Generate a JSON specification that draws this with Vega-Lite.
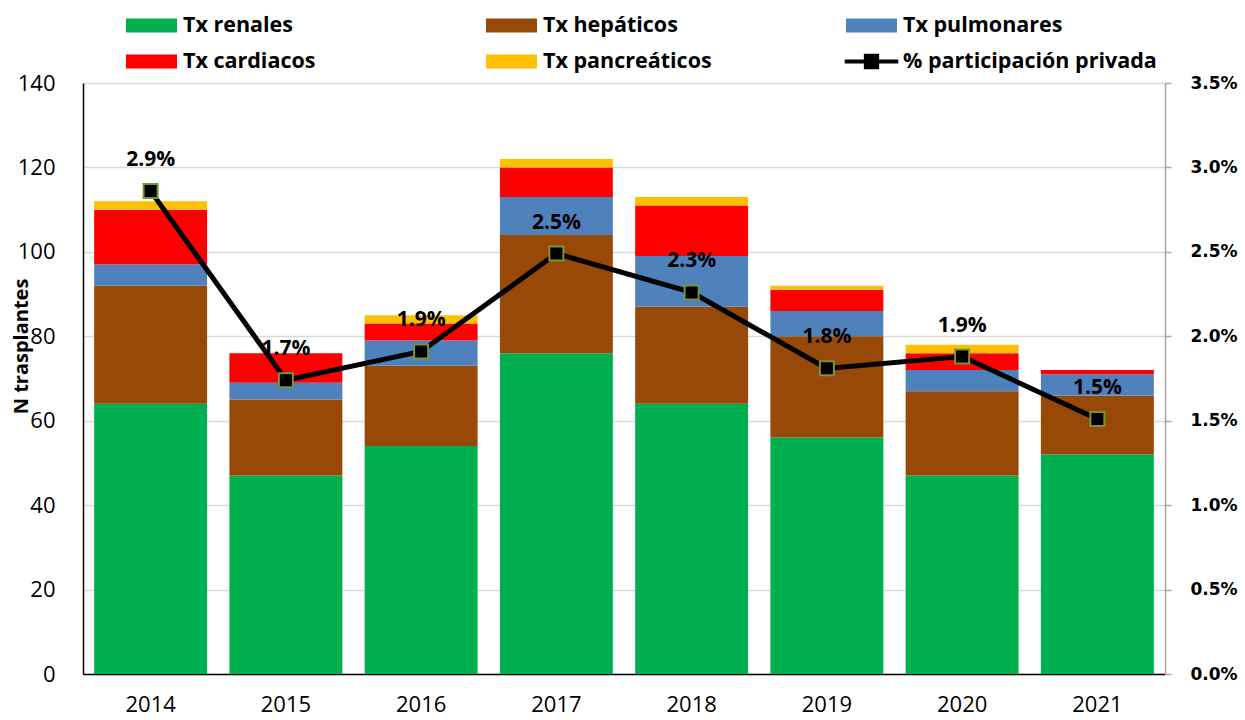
{
  "$schema": "https://vega.github.io/schema/vega-lite/v6.json",
  "width": 1082,
  "height": 591,
  "autosize": {"type": "none"},
  "padding": {"left": 83, "top": 83, "right": 80, "bottom": 46},
  "background": "white",
  "config": {
    "view": {"stroke": null},
    "font": "Open Sans"
  },
  "datasets": {
    "tipos": [
      {"tipo": "Tx renales", "orden": 1},
      {"tipo": "Tx hepáticos", "orden": 2},
      {"tipo": "Tx pulmonares", "orden": 3},
      {"tipo": "Tx cardiacos", "orden": 4},
      {"tipo": "Tx pancreáticos", "orden": 5}
    ],
    "tx": [
      {"year": "2014", "tipo": "Tx renales", "n": 64},
      {"year": "2014", "tipo": "Tx hepáticos", "n": 28},
      {"year": "2014", "tipo": "Tx pulmonares", "n": 5},
      {"year": "2014", "tipo": "Tx cardiacos", "n": 13},
      {"year": "2014", "tipo": "Tx pancreáticos", "n": 2},
      {"year": "2015", "tipo": "Tx renales", "n": 47},
      {"year": "2015", "tipo": "Tx hepáticos", "n": 18},
      {"year": "2015", "tipo": "Tx pulmonares", "n": 4},
      {"year": "2015", "tipo": "Tx cardiacos", "n": 7},
      {"year": "2015", "tipo": "Tx pancreáticos", "n": 0},
      {"year": "2016", "tipo": "Tx renales", "n": 54},
      {"year": "2016", "tipo": "Tx hepáticos", "n": 19},
      {"year": "2016", "tipo": "Tx pulmonares", "n": 6},
      {"year": "2016", "tipo": "Tx cardiacos", "n": 4},
      {"year": "2016", "tipo": "Tx pancreáticos", "n": 2},
      {"year": "2017", "tipo": "Tx renales", "n": 76},
      {"year": "2017", "tipo": "Tx hepáticos", "n": 28},
      {"year": "2017", "tipo": "Tx pulmonares", "n": 9},
      {"year": "2017", "tipo": "Tx cardiacos", "n": 7},
      {"year": "2017", "tipo": "Tx pancreáticos", "n": 2},
      {"year": "2018", "tipo": "Tx renales", "n": 64},
      {"year": "2018", "tipo": "Tx hepáticos", "n": 23},
      {"year": "2018", "tipo": "Tx pulmonares", "n": 12},
      {"year": "2018", "tipo": "Tx cardiacos", "n": 12},
      {"year": "2018", "tipo": "Tx pancreáticos", "n": 2},
      {"year": "2019", "tipo": "Tx renales", "n": 56},
      {"year": "2019", "tipo": "Tx hepáticos", "n": 24},
      {"year": "2019", "tipo": "Tx pulmonares", "n": 6},
      {"year": "2019", "tipo": "Tx cardiacos", "n": 5},
      {"year": "2019", "tipo": "Tx pancreáticos", "n": 1},
      {"year": "2020", "tipo": "Tx renales", "n": 47},
      {"year": "2020", "tipo": "Tx hepáticos", "n": 20},
      {"year": "2020", "tipo": "Tx pulmonares", "n": 5},
      {"year": "2020", "tipo": "Tx cardiacos", "n": 4},
      {"year": "2020", "tipo": "Tx pancreáticos", "n": 2},
      {"year": "2021", "tipo": "Tx renales", "n": 52},
      {"year": "2021", "tipo": "Tx hepáticos", "n": 14},
      {"year": "2021", "tipo": "Tx pulmonares", "n": 5},
      {"year": "2021", "tipo": "Tx cardiacos", "n": 1},
      {"year": "2021", "tipo": "Tx pancreáticos", "n": 0}
    ],
    "pct": [
      {"year": "2014", "pct": 0.0286},
      {"year": "2015", "pct": 0.0174},
      {"year": "2016", "pct": 0.0191},
      {"year": "2017", "pct": 0.0249},
      {"year": "2018", "pct": 0.0226},
      {"year": "2019", "pct": 0.0181},
      {"year": "2020", "pct": 0.0188},
      {"year": "2021", "pct": 0.0151}
    ]
  },
  "encoding": {
    "x": {
      "field": "year",
      "type": "nominal",
      "title": null,
      "scale": {"paddingInner": 0.165, "paddingOuter": 0.0825},
      "axis": {
        "labelAngle": 0,
        "labelFont": "Open Sans",
        "labelFontSize": 22,
        "labelColor": "#000000",
        "labelPadding": 20,
        "domainColor": "#000000",
        "domainWidth": 1.5,
        "ticks": false,
        "tickSize": 0,
        "grid": false
      }
    }
  },
  "layer": [
    {
      "data": {"name": "tx"},
      "transform": [
        {"lookup": "tipo", "from": {"data": {"name": "tipos"}, "key": "tipo", "fields": ["orden"]}}
      ],
      "mark": {"type": "bar"},
      "encoding": {
        "y": {
          "field": "n",
          "type": "quantitative",
          "stack": "zero",
          "title": "N trasplantes",
          "scale": {"domain": [0, 140], "nice": false},
          "axis": {
            "values": [0, 20, 40, 60, 80, 100, 120, 140],
            "labelFont": "Open Sans",
            "labelFontSize": 22,
            "labelColor": "#000000",
            "labelPadding": 28,
            "ticks": false,
            "tickSize": 0,
            "domainColor": "#000000",
            "domainWidth": 1.5,
            "grid": true,
            "gridColor": "#D9D9D9",
            "gridWidth": 1.5,
            "titleFont": "Open Sans",
            "titleFontSize": 20,
            "titleFontWeight": "bold",
            "titleColor": "#000000",
            "titleAngle": -90,
            "titleX": -56,
            "titleY": 263,
            "titleAlign": "center",
            "titleBaseline": "alphabetic"
          }
        },
        "order": {"field": "orden", "type": "quantitative", "sort": "ascending"},
        "color": {
          "field": "tipo",
          "type": "nominal",
          "scale": {
            "domain": ["Tx renales", "Tx hepáticos", "Tx pulmonares", "Tx cardiacos", "Tx pancreáticos", "% participación privada"],
            "range": ["#00B050", "#984807", "#4F81BD", "#FF0000", "#FFC000", "#000000"]
          },
          "legend": {
            "title": null,
            "orient": "none",
            "legendX": 43,
            "legendY": -83,
            "direction": "horizontal",
            "columns": 3,
            "columnPadding": 47,
            "rowPadding": -6,
            "gridAlign": "all",
            "padding": 0,
            "symbolSize": 2601,
            "symbolType": "M-1,-0.275H1V0.275H-1Z",
            "symbolStrokeWidth": 0,
            "labelFont": "Open Sans",
            "labelFontSize": 21.5,
            "labelFontWeight": "bold",
            "labelColor": "#000000",
            "labelOffset": 6,
            "labelLimit": 0,
            "encode": {
              "symbols": {
                "update": {
                  "shape": {"signal": "datum.value === '% participación privada' ? 'M-1.05,-0.08H1.05V0.08H-1.05Z M-0.3,-0.3H0.3V0.3H-0.3Z' : 'M-1,-0.275H1V0.275H-1Z'"},
                  "strokeWidth": {"value": 0}
                }
              }
            }
          }
        }
      }
    },
    {
      "data": {"name": "pct"},
      "encoding": {
        "y": {
          "field": "pct",
          "type": "quantitative",
          "title": null,
          "scale": {"domain": [0, 0.035], "nice": false},
          "axis": {
            "orient": "right",
            "values": [0, 0.005, 0.01, 0.015, 0.02, 0.025, 0.03, 0.035],
            "format": ".1%",
            "labelFont": "DejaVu Sans",
            "labelFontSize": 17,
            "labelFontWeight": "bold",
            "labelColor": "#000000",
            "labelPadding": 19,
            "ticks": true,
            "tickSize": 6,
            "tickColor": "#A6A6A6",
            "tickWidth": 1.5,
            "domainColor": "#A6A6A6",
            "domainWidth": 1.5,
            "grid": false
          }
        }
      },
      "layer": [
        {
          "mark": {"type": "line", "color": "#000000", "strokeWidth": 5}
        },
        {
          "mark": {"type": "point", "shape": "square", "size": 196, "filled": true, "fill": "#000000", "stroke": "#77933C", "strokeWidth": 2, "opacity": 1}
        },
        {
          "mark": {"type": "text", "font": "Open Sans", "fontSize": 21, "fontWeight": "bold", "color": "#000000", "dy": -25, "baseline": "alphabetic", "align": "center"},
          "encoding": {
            "text": {"field": "pct", "type": "quantitative", "format": ".1%"}
          }
        }
      ]
    }
  ],
  "resolve": {"scale": {"y": "independent"}}
}
